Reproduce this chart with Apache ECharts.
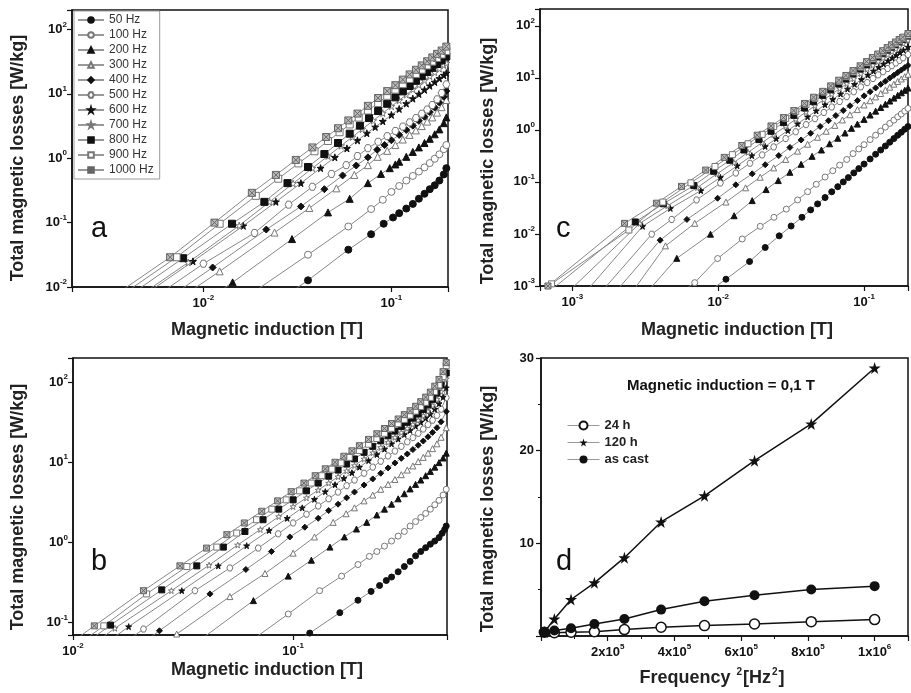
<!DOCTYPE html>
<html>
<head>
<meta charset="utf-8">
<script src="https://cdn.jsdelivr.net/npm/echarts@6.0.0/dist/echarts.min.js"></script>
<style>
html, body { margin: 0; padding: 0; background: #fff; }
#main { width: 911px; height: 693px; }
</style>
</head>
<body>
<div id="main"></div>
<script>
// frequency names shared by panels a, b, c
var freqNames = ['50 Hz', '100 Hz', '200 Hz', '300 Hz', '400 Hz', '500 Hz', '600 Hz', '700 Hz', '800 Hz', '900 Hz', '1000 Hz'];

// panel a : [B (T), losses (W/kg)]
var a50 = [[0.0286,0.008],[0.036,0.0127],[0.059,0.038],[0.078,0.066],[0.091,0.096],[0.102,0.12],[0.11,0.14],[0.12,0.165],[0.13,0.195],[0.14,0.235],[0.15,0.28],[0.16,0.33],[0.17,0.38],[0.18,0.45],[0.19,0.56],[0.196,0.7]];
var a100 = [[0.0181,0.008],[0.036,0.0317],[0.059,0.087],[0.078,0.162],[0.09,0.226],[0.1,0.3],[0.11,0.37],[0.12,0.45],[0.13,0.53],[0.14,0.62],[0.15,0.72],[0.16,0.84],[0.17,0.98],[0.18,1.15],[0.19,1.38],[0.196,1.6]];
var a200 = [[0.0118,0.008],[0.0143,0.0118],[0.0296,0.0555],[0.046,0.144],[0.06,0.234],[0.075,0.41],[0.088,0.57],[0.098,0.7],[0.105,0.8],[0.11,0.88],[0.12,1.05],[0.13,1.25],[0.14,1.47],[0.15,1.72],[0.16,2.0],[0.17,2.35],[0.18,2.8],[0.19,3.5],[0.196,4.3]];
var a300 = [[0.0082,0.008],[0.0122,0.0175],[0.0239,0.07],[0.0366,0.168],[0.051,0.34],[0.0635,0.55],[0.075,0.78],[0.0845,1.05],[0.095,1.3],[0.105,1.6],[0.115,1.95],[0.125,2.3],[0.135,2.7],[0.145,3.15],[0.155,3.7],[0.165,4.3],[0.175,5.1],[0.185,6.2],[0.196,8]];
var a400 = [[0.0071,0.008],[0.0112,0.0201],[0.0216,0.078],[0.033,0.178],[0.044,0.33],[0.055,0.54],[0.065,0.77],[0.075,1.03],[0.084,1.35],[0.092,1.6],[0.1,1.9],[0.11,2.3],[0.12,2.75],[0.13,3.2],[0.14,3.8],[0.15,4.4],[0.16,5.2],[0.17,6.1],[0.18,7.3],[0.19,9],[0.196,11]];
var a500 = [[0.0059,0.008],[0.01,0.023],[0.0187,0.069],[0.0284,0.19],[0.038,0.36],[0.048,0.57],[0.0575,0.78],[0.066,1.08],[0.075,1.43],[0.085,1.8],[0.095,2.2],[0.105,2.65],[0.115,3.1],[0.125,3.6],[0.135,4.2],[0.145,4.9],[0.155,5.7],[0.165,6.7],[0.175,8.2],[0.185,10.3],[0.196,14]];
var a600 = [[0.005,0.008],[0.0088,0.025],[0.0163,0.089],[0.0243,0.21],[0.033,0.41],[0.042,0.7],[0.05,1.03],[0.058,1.42],[0.066,1.89],[0.074,2.44],[0.082,3.05],[0.09,3.74],[0.1,4.7],[0.11,5.8],[0.12,7.05],[0.13,8.4],[0.14,9.9],[0.15,11.5],[0.16,13.3],[0.17,15.2],[0.18,17.3],[0.19,19.4],[0.196,21]];
var a700 = [[0.0048,0.008],[0.0083,0.024],[0.0155,0.09],[0.0225,0.21],[0.03,0.405],[0.038,0.7],[0.046,1.08],[0.054,1.56],[0.062,2.14],[0.07,2.83],[0.08,3.83],[0.09,5.0],[0.1,6.4],[0.11,7.9],[0.12,9.7],[0.13,11.7],[0.14,13.8],[0.15,16.2],[0.16,18.8],[0.17,21.5],[0.18,24.5],[0.19,27.8],[0.196,30]];
var a800 = [[0.0042,0.008],[0.0078,0.028],[0.0142,0.096],[0.0211,0.21],[0.028,0.41],[0.036,0.73],[0.044,1.16],[0.052,1.72],[0.06,2.4],[0.068,3.2],[0.076,4.2],[0.085,5.4],[0.095,7.0],[0.105,8.8],[0.115,10.9],[0.125,13.2],[0.135,15.9],[0.145,18.7],[0.155,21.8],[0.165,25.3],[0.175,29],[0.185,33],[0.196,38]];
var a900 = [[0.0038,0.008],[0.0072,0.029],[0.0122,0.096],[0.019,0.26],[0.025,0.48],[0.032,0.83],[0.039,1.28],[0.046,1.85],[0.053,2.53],[0.06,3.34],[0.067,4.27],[0.075,5.5],[0.085,7.2],[0.095,9.3],[0.105,11.6],[0.115,14.1],[0.125,17],[0.135,20.2],[0.145,23.7],[0.155,27.5],[0.165,31.6],[0.175,36],[0.185,40.7],[0.196,46]];
var a1000 = [[0.0035,0.008],[0.00665,0.029],[0.01145,0.1],[0.0181,0.29],[0.0243,0.55],[0.031,0.94],[0.038,1.47],[0.045,2.13],[0.052,2.92],[0.059,3.86],[0.066,4.93],[0.075,6.5],[0.085,8.6],[0.095,11],[0.105,13.6],[0.115,16.6],[0.125,20],[0.135,23.6],[0.145,27.6],[0.155,32],[0.165,36.7],[0.175,41.7],[0.185,47],[0.196,54]];

// panel b
var b50 = [[0.1,0.055],[0.119,0.074],[0.163,0.133],[0.197,0.19],[0.226,0.245],[0.247,0.29],[0.265,0.335],[0.28,0.37],[0.3,0.43],[0.32,0.5],[0.34,0.58],[0.36,0.68],[0.38,0.77],[0.4,0.86],[0.42,0.95],[0.44,1.04],[0.46,1.15],[0.475,1.3],[0.488,1.45],[0.496,1.6]];
var b100 = [[0.062,0.055],[0.095,0.128],[0.132,0.25],[0.166,0.38],[0.197,0.53],[0.222,0.67],[0.24,0.77],[0.26,0.9],[0.28,1.04],[0.3,1.2],[0.32,1.37],[0.34,1.6],[0.36,1.82],[0.38,2.05],[0.4,2.3],[0.42,2.6],[0.44,2.95],[0.46,3.35],[0.48,3.9],[0.496,4.6]];
var b200 = [[0.036,0.055],[0.066,0.188],[0.095,0.38],[0.121,0.6],[0.147,0.875],[0.171,1.17],[0.194,1.47],[0.216,1.78],[0.24,2.2],[0.26,2.6],[0.28,3.0],[0.3,3.5],[0.32,4.05],[0.34,4.65],[0.36,5.3],[0.38,6.0],[0.4,6.8],[0.42,7.7],[0.44,8.7],[0.46,9.9],[0.48,11.3],[0.496,13]];
var b300 = [[0.0259,0.055],[0.0296,0.072],[0.0516,0.211],[0.0745,0.41],[0.1,0.735],[0.125,1.17],[0.152,1.78],[0.174,2.28],[0.19,2.7],[0.21,3.3],[0.23,3.9],[0.25,4.6],[0.27,5.3],[0.29,6.1],[0.31,7.0],[0.33,8.0],[0.35,9.0],[0.37,10.2],[0.39,11.5],[0.41,13],[0.43,14.8],[0.45,17],[0.47,20.5],[0.496,27]];
var b400 = [[0.0206,0.055],[0.0247,0.079],[0.0419,0.228],[0.061,0.46],[0.0797,0.77],[0.0966,1.17],[0.113,1.55],[0.13,2.0],[0.145,2.5],[0.16,3.0],[0.175,3.6],[0.19,4.25],[0.21,5.2],[0.23,6.2],[0.25,7.3],[0.27,8.5],[0.29,9.8],[0.31,11.2],[0.33,12.7],[0.35,14.4],[0.37,16.3],[0.39,18.4],[0.41,20.8],[0.43,23.6],[0.45,27],[0.47,32],[0.496,43]];
var b500 = [[0.017,0.055],[0.0209,0.083],[0.0358,0.25],[0.0516,0.48],[0.0694,0.85],[0.0855,1.28],[0.1,1.75],[0.115,2.25],[0.13,2.85],[0.145,3.5],[0.16,4.25],[0.175,5.1],[0.19,6.0],[0.21,7.3],[0.23,8.7],[0.25,10.3],[0.27,12],[0.29,13.8],[0.31,15.8],[0.33,18],[0.35,20.3],[0.37,23],[0.39,26],[0.41,29.5],[0.43,33.5],[0.45,38.5],[0.47,46],[0.496,64]];
var b600 = [[0.0141,0.055],[0.0179,0.089],[0.0312,0.25],[0.0457,0.51],[0.0615,0.91],[0.0778,1.41],[0.094,2.0],[0.11,2.7],[0.125,3.45],[0.14,4.3],[0.155,5.25],[0.17,6.3],[0.185,7.4],[0.2,8.7],[0.22,10.5],[0.24,12.5],[0.26,14.6],[0.28,17],[0.3,19.5],[0.32,22.2],[0.34,25],[0.36,28.2],[0.38,31.6],[0.4,35.5],[0.42,40],[0.44,46],[0.46,54],[0.48,65],[0.496,85]];
var b700 = [[0.0125,0.055],[0.0155,0.085],[0.028,0.25],[0.0415,0.52],[0.056,0.93],[0.071,1.45],[0.086,2.1],[0.1,2.8],[0.115,3.6],[0.13,4.5],[0.145,5.5],[0.16,6.6],[0.175,7.8],[0.19,9.1],[0.21,11],[0.23,13.1],[0.25,15.3],[0.27,17.8],[0.29,20.5],[0.31,23.4],[0.33,26.5],[0.35,29.8],[0.37,33.5],[0.39,38],[0.41,43.5],[0.43,51],[0.45,61],[0.47,76],[0.496,110]];
var b800 = [[0.0114,0.055],[0.0148,0.093],[0.0253,0.256],[0.0365,0.51],[0.0482,0.875],[0.0604,1.37],[0.073,1.92],[0.086,2.6],[0.1,3.4],[0.115,4.4],[0.13,5.5],[0.145,6.7],[0.16,8.0],[0.175,9.5],[0.19,11],[0.21,13.3],[0.23,15.8],[0.25,18.5],[0.27,21.4],[0.29,24.5],[0.31,27.9],[0.33,31.5],[0.35,35.5],[0.37,40],[0.39,45.5],[0.41,52],[0.43,61],[0.45,73],[0.47,92],[0.496,130]];
var b900 = [[0.0107,0.055],[0.0138,0.091],[0.0216,0.228],[0.0329,0.5],[0.045,0.875],[0.0554,1.31],[0.0682,1.92],[0.08,2.6],[0.093,3.4],[0.107,4.4],[0.121,5.5],[0.135,6.8],[0.15,8.2],[0.165,9.8],[0.18,11.5],[0.2,14],[0.22,16.8],[0.24,19.8],[0.26,23],[0.28,26.5],[0.3,30.3],[0.32,34.3],[0.34,38.6],[0.36,43.5],[0.38,49.5],[0.4,56],[0.42,64.5],[0.44,76],[0.46,92],[0.48,117],[0.496,160]];
var b1000 = [[0.0097,0.055],[0.0125,0.091],[0.0209,0.25],[0.0306,0.51],[0.0404,0.85],[0.05,1.25],[0.06,1.75],[0.072,2.45],[0.085,3.3],[0.098,4.3],[0.112,5.5],[0.126,6.8],[0.14,8.3],[0.155,10],[0.17,11.9],[0.185,13.9],[0.2,16.1],[0.22,19.3],[0.24,22.7],[0.26,26.4],[0.28,30.4],[0.3,34.7],[0.32,39.3],[0.34,44],[0.36,50],[0.38,57],[0.4,65],[0.42,75],[0.44,89],[0.46,108],[0.48,135],[0.496,175]];

// panel c
var c50 = [[0.0087,0.0008],[0.0113,0.00135],[0.0164,0.00295],[0.021,0.0055],[0.0262,0.0092],[0.0316,0.0142],[0.0375,0.0209],[0.043,0.029],[0.048,0.0378],[0.054,0.05],[0.06,0.0646],[0.066,0.081],[0.072,0.1],[0.078,0.121],[0.085,0.149],[0.092,0.18],[0.1,0.22],[0.11,0.276],[0.12,0.34],[0.13,0.41],[0.14,0.49],[0.15,0.58],[0.16,0.68],[0.17,0.79],[0.18,0.9],[0.19,1.03],[0.2,1.16]];
var c100 = [[0.0057,0.0008],[0.0069,0.00116],[0.0099,0.00337],[0.0146,0.008],[0.0194,0.014],[0.0241,0.0209],[0.0293,0.03],[0.035,0.045],[0.041,0.065],[0.047,0.09],[0.054,0.124],[0.061,0.164],[0.068,0.21],[0.076,0.27],[0.084,0.35],[0.092,0.43],[0.1,0.52],[0.11,0.65],[0.12,0.79],[0.13,0.95],[0.14,1.13],[0.15,1.33],[0.16,1.54],[0.17,1.78],[0.18,2.02],[0.19,2.29],[0.2,2.58]];
var c200 = [[0.0033,0.0008],[0.0052,0.0034],[0.00885,0.0099],[0.01285,0.0224],[0.0171,0.0437],[0.0213,0.0713],[0.0258,0.106],[0.031,0.153],[0.037,0.218],[0.044,0.31],[0.051,0.41],[0.058,0.54],[0.066,0.69],[0.074,0.87],[0.082,1.07],[0.09,1.29],[0.1,1.59],[0.11,1.93],[0.12,2.29],[0.13,2.69],[0.14,3.12],[0.15,3.58],[0.16,4.08],[0.17,4.6],[0.18,5.16],[0.19,5.75],[0.2,6.37]];
var c300 = [[0.0026,0.0008],[0.00435,0.0059],[0.0069,0.016],[0.0113,0.041],[0.0154,0.077],[0.0194,0.123],[0.024,0.186],[0.029,0.27],[0.035,0.39],[0.041,0.53],[0.048,0.72],[0.055,0.94],[0.063,1.22],[0.071,1.55],[0.08,1.95],[0.09,2.45],[0.1,3.01],[0.11,3.63],[0.12,4.3],[0.13,5.0],[0.14,5.8],[0.15,6.6],[0.16,7.55],[0.17,8.5],[0.18,9.5],[0.19,10.5],[0.2,11.7]];
var c400 = [[0.002,0.0008],[0.004,0.0076],[0.0061,0.019],[0.0099,0.0485],[0.0132,0.088],[0.0171,0.143],[0.021,0.214],[0.026,0.32],[0.031,0.46],[0.037,0.64],[0.043,0.86],[0.05,1.16],[0.057,1.5],[0.064,1.88],[0.072,2.36],[0.08,2.9],[0.09,3.65],[0.1,4.5],[0.11,5.4],[0.12,6.4],[0.13,7.5],[0.14,8.6],[0.15,9.9],[0.16,11.2],[0.17,12.6],[0.18,14.1],[0.19,15.7],[0.2,17.3]];
var c500 = [[0.0016,0.0008],[0.0035,0.0099],[0.0048,0.019],[0.0071,0.045],[0.01035,0.095],[0.0132,0.148],[0.0165,0.228],[0.02,0.33],[0.024,0.47],[0.029,0.68],[0.034,0.92],[0.04,1.26],[0.046,1.64],[0.053,2.16],[0.06,2.75],[0.068,3.5],[0.076,4.34],[0.085,5.4],[0.095,6.7],[0.105,8.1],[0.115,9.7],[0.125,11.4],[0.135,13.1],[0.145,15.1],[0.155,17.1],[0.165,19.3],[0.175,21.6],[0.185,24.2],[0.2,28]];
var c600 = [[0.00125,0.0008],[0.00303,0.014],[0.0047,0.031],[0.0076,0.068],[0.01035,0.122],[0.0135,0.204],[0.017,0.32],[0.021,0.48],[0.025,0.68],[0.03,0.97],[0.035,1.31],[0.041,1.78],[0.047,2.32],[0.054,3.04],[0.061,3.86],[0.069,4.9],[0.077,6.1],[0.086,7.5],[0.096,9.3],[0.106,11.3],[0.116,13.5],[0.126,15.9],[0.136,18.5],[0.146,21.2],[0.156,24.1],[0.166,27.2],[0.176,30.5],[0.186,34],[0.2,39]];
var c700 = [[0.00095,0.0008],[0.0029,0.016],[0.0045,0.035],[0.0072,0.078],[0.0098,0.143],[0.0128,0.236],[0.016,0.37],[0.02,0.57],[0.024,0.81],[0.029,1.17],[0.034,1.6],[0.04,2.2],[0.046,2.9],[0.053,3.8],[0.06,4.85],[0.068,6.2],[0.076,7.75],[0.085,9.6],[0.095,12],[0.105,14.6],[0.115,17.5],[0.125,20.6],[0.135,24],[0.145,27.8],[0.155,31.8],[0.165,36],[0.175,40.5],[0.185,45.5],[0.2,53]];
var c800 = [[0.0007,0.0008],[0.0027,0.017],[0.0042,0.038],[0.0068,0.085],[0.0093,0.16],[0.012,0.26],[0.015,0.41],[0.019,0.65],[0.023,0.94],[0.028,1.38],[0.033,1.9],[0.039,2.63],[0.045,3.48],[0.052,4.6],[0.059,5.9],[0.067,7.6],[0.075,9.5],[0.084,11.9],[0.094,14.8],[0.104,18],[0.114,21.6],[0.124,25.5],[0.134,29.7],[0.144,34.2],[0.154,39],[0.164,44],[0.174,49.5],[0.184,55],[0.2,64]];
var c900 = [[0.0006,0.0008],[0.00072,0.0011],[0.00244,0.0119],[0.00417,0.041],[0.0065,0.096],[0.0095,0.198],[0.0125,0.334],[0.016,0.54],[0.02,0.82],[0.024,1.16],[0.029,1.66],[0.034,2.25],[0.04,3.08],[0.046,4.03],[0.053,5.3],[0.06,6.7],[0.068,8.5],[0.076,10.5],[0.085,13],[0.095,16.1],[0.105,19.4],[0.115,23.1],[0.125,27.1],[0.135,31.4],[0.145,36],[0.155,40.9],[0.165,46],[0.175,51.4],[0.185,57.4],[0.2,66.4]];
var c1000 = [[0.00068,0.001],[0.00228,0.016],[0.00377,0.039],[0.0056,0.082],[0.0082,0.169],[0.011,0.296],[0.0145,0.5],[0.0185,0.79],[0.023,1.19],[0.028,1.72],[0.033,2.35],[0.039,3.22],[0.045,4.24],[0.052,5.5],[0.059,7.0],[0.067,9.0],[0.075,11.1],[0.084,13.8],[0.094,17],[0.104,20.5],[0.114,24.5],[0.124,28.7],[0.134,33.2],[0.144,38.1],[0.154,43.2],[0.164,48.8],[0.174,54.4],[0.184,60.4],[0.2,71]];

// panel d : frequency^2 vs losses at 0.1 T
var dFreq2 = [10000, 40000, 90000, 160000, 250000, 360000, 490000, 640000, 810000, 1000000];
var d24h = [0.4, 0.35, 0.4, 0.47, 0.69, 0.94, 1.12, 1.3, 1.55, 1.77];
var d120h = [0.4, 1.84, 3.94, 5.74, 8.45, 12.31, 15.13, 18.92, 22.89, 28.92];
var dCast = [0.4, 0.6, 0.83, 1.3, 1.84, 2.85, 3.75, 4.4, 5.02, 5.38];

var FONT = '"Liberation Sans", Arial, sans-serif';
var STAR = 'path://M50,0L61,35L98,35L68,57L79,92L50,71L21,92L32,57L2,35L39,35Z';
var HEX = 'path://M25,0L75,0L100,43L75,87L25,87L0,43Z';
var XSQ = 'path://M0,0L10,0L10,10L0,10Z M0,0L10,10 M10,0L0,10';

var marks = [
    {symbol: 'circle', fill: '#111', edge: '#111'},
    {symbol: 'circle', fill: '#fff', edge: '#777'},
    {symbol: 'triangle', fill: '#111', edge: '#111'},
    {symbol: 'triangle', fill: '#fff', edge: '#777'},
    {symbol: 'diamond', fill: '#111', edge: '#111'},
    {symbol: HEX, fill: '#fff', edge: '#777'},
    {symbol: STAR, fill: '#111', edge: '#111'},
    {symbol: STAR, fill: '#fff', edge: '#777'},
    {symbol: 'rect', fill: '#111', edge: '#111'},
    {symbol: 'rect', fill: '#fff', edge: '#777'},
    {symbol: XSQ, fill: '#bbb', edge: '#666'}
];

var supRich = {
    b: {fontSize: 13, fontWeight: 'bold', color: '#111', fontFamily: FONT},
    e: {fontSize: 8, fontWeight: 'bold', color: '#111', fontFamily: FONT, padding: [0, 0, 10, 0]}
};

function logLabel(v) {
    var e = Math.log(v) / Math.LN10;
    var r = Math.round(e);
    if (Math.abs(e - r) > 1e-6) return '';
    return '{b|10}{e|' + r + '}';
}

function logAxis(grid, min, max, isX) {
    return {
        type: 'log', logBase: 10, gridIndex: grid, min: min, max: max,
        axisLine: {show: true, lineStyle: {color: '#111', width: 1.5}},
        axisTick: {show: true, length: 5, lineStyle: {color: '#111', width: 1.2}},
        splitLine: {show: false},
        axisLabel: {formatter: logLabel, rich: supRich, margin: isX ? 7 : 5}
    };
}

function freqSeries(idx, list, size) {
    return list.map(function (d, i) {
        return {
            name: freqNames[i], type: 'line', xAxisIndex: idx, yAxisIndex: idx,
            data: d, symbol: marks[i].symbol, symbolSize: size, clip: true, silent: true,
            lineStyle: {color: '#888', width: 1},
            itemStyle: {color: marks[i].fill, borderColor: marks[i].edge, borderWidth: 1},
            emphasis: {disabled: true}
        };
    });
}

function pairs(xs, ys) {
    return xs.map(function (x, i) { return [x, ys[i]]; });
}

var chart = echarts.init(document.getElementById('main'));

var gridBox = {show: true, borderColor: '#111', borderWidth: 1.5};

var series = []
    .concat(freqSeries(0, [a50, a100, a200, a300, a400, a500, a600, a700, a800, a900, a1000], 7))
    .concat(freqSeries(1, [b50, b100, b200, b300, b400, b500, b600, b700, b800, b900, b1000], 6))
    .concat(freqSeries(2, [c50, c100, c200, c300, c400, c500, c600, c700, c800, c900, c1000], 6));

var dStyle = {
    type: 'line', xAxisIndex: 3, yAxisIndex: 3, silent: true,
    lineStyle: {color: '#111', width: 1.5}, emphasis: {disabled: true}
};
series.push(Object.assign({}, dStyle, {name: '24 h', data: pairs(dFreq2, d24h), symbol: 'circle', symbolSize: 10,
    itemStyle: {color: '#fff', borderColor: '#111', borderWidth: 1.5}}));
series.push(Object.assign({}, dStyle, {name: '120 h', data: pairs(dFreq2, d120h), symbol: STAR, symbolSize: 12,
    itemStyle: {color: '#111'}}));
series.push(Object.assign({}, dStyle, {name: 'as cast', data: pairs(dFreq2, dCast), symbol: 'circle', symbolSize: 10,
    itemStyle: {color: '#111'}}));

function titleText(x, y, text, rotate) {
    return {
        type: 'text', x: x, y: y, rotation: rotate ? Math.PI / 2 : 0, silent: true,
        style: {text: text, fill: '#222', font: 'bold 18px ' + FONT, align: 'center', verticalAlign: 'middle'}
    };
}

function letter(x, y, t) {
    return {
        type: 'text', x: x, y: y, silent: true,
        style: {text: t, fill: '#111', font: '29px ' + FONT, align: 'left', verticalAlign: 'bottom'}
    };
}

var option = {
    animation: false,
    textStyle: {fontFamily: FONT},
    grid: [
        Object.assign({left: 72, top: 10, width: 376, height: 277}, gridBox),
        Object.assign({left: 73, top: 358, width: 374, height: 277}, gridBox),
        Object.assign({left: 540, top: 9, width: 376, height: 277}, gridBox),
        Object.assign({left: 541, top: 358, width: 376, height: 278}, gridBox)
    ],
    xAxis: [
        logAxis(0, 0.002, 0.2, true),
        logAxis(1, 0.01, 0.5, true),
        logAxis(2, 0.0006, 0.2, true),
        {
            type: 'value', gridIndex: 3, min: 0, max: 1100000, interval: 200000,
            axisLine: {show: true, lineStyle: {color: '#111', width: 1.5}},
            axisTick: {show: true, length: 5, lineStyle: {color: '#111', width: 1.2}},
            minorTick: {show: true, splitNumber: 2, length: 3, lineStyle: {color: '#111'}},
            splitLine: {show: false},
            axisLabel: {
                margin: 7, rich: supRich,
                formatter: function (v) {
                    if (v <= 0 || v % 200000 !== 0) return '';
                    if (v === 1000000) return '{b|1x10}{e|6}';
                    return '{b|' + (v / 100000) + 'x10}{e|5}';
                }
            }
        }
    ],
    yAxis: [
        logAxis(0, 0.01, 200, false),
        logAxis(1, 0.07, 200, false),
        logAxis(2, 0.001, 210, false),
        {
            type: 'value', gridIndex: 3, min: 0, max: 30, interval: 10,
            axisLine: {show: true, lineStyle: {color: '#111', width: 1.5}},
            axisTick: {show: true, length: 5, lineStyle: {color: '#111', width: 1.2}},
            minorTick: {show: true, splitNumber: 2, length: 3, lineStyle: {color: '#111'}},
            splitLine: {show: false},
            axisLabel: {
                margin: 7, fontSize: 13, fontWeight: 'bold', color: '#111',
                formatter: function (v) { return v === 0 ? '' : String(v); }
            }
        }
    ],
    legend: [
        {
            data: freqNames, orient: 'vertical', left: 74, top: 11,
            itemWidth: 26, itemHeight: 7, itemGap: 3, padding: [3, 6, 3, 3],
            borderColor: '#999', borderWidth: 1, backgroundColor: '#fff', selectedMode: false,
            lineStyle: {color: '#999'},
            textStyle: {fontSize: 12, color: '#333', fontFamily: FONT}
        },
        {
            data: ['24 h', '120 h', 'as cast'], orient: 'vertical', left: 562, top: 414,
            itemWidth: 32, itemHeight: 10, itemGap: 4, selectedMode: false,
            lineStyle: {color: '#999', width: 1},
            textStyle: {fontSize: 13, fontWeight: 'bold', color: '#222', fontFamily: FONT}
        }
    ],
    graphic: [
        titleText(18, 158, 'Total magnetic losses [W/kg]', true),
        titleText(488, 161, 'Total magnetic losses [W/kg]', true),
        titleText(18, 507, 'Total magnetic losses [W/kg]', true),
        titleText(488, 509, 'Total magnetic losses [W/kg]', true),
        titleText(267, 330, 'Magnetic induction [T]'),
        titleText(737, 330, 'Magnetic induction [T]'),
        titleText(267, 670, 'Magnetic induction [T]'),
        {
            type: 'text', x: 712, y: 678, silent: true,
            style: {
                text: 'Frequency {s|2}[Hz{s|2}]', fill: '#222', font: 'bold 18px ' + FONT,
                align: 'center', verticalAlign: 'middle',
                rich: {s: {fontSize: 10, fontWeight: 'bold', fill: '#222', padding: [0, 1, 12, 1]}}
            }
        },
        {
            type: 'text', x: 721, y: 386, silent: true,
            style: {text: 'Magnetic induction = 0,1 T', fill: '#111', font: 'bold 15px ' + FONT,
                align: 'center', verticalAlign: 'middle'}
        },
        letter(91, 243, 'a'),
        letter(91, 576, 'b'),
        letter(556, 243, 'c'),
        letter(556, 576, 'd')
    ],
    series: series
};

chart.setOption(option);
</script>
</body>
</html>
